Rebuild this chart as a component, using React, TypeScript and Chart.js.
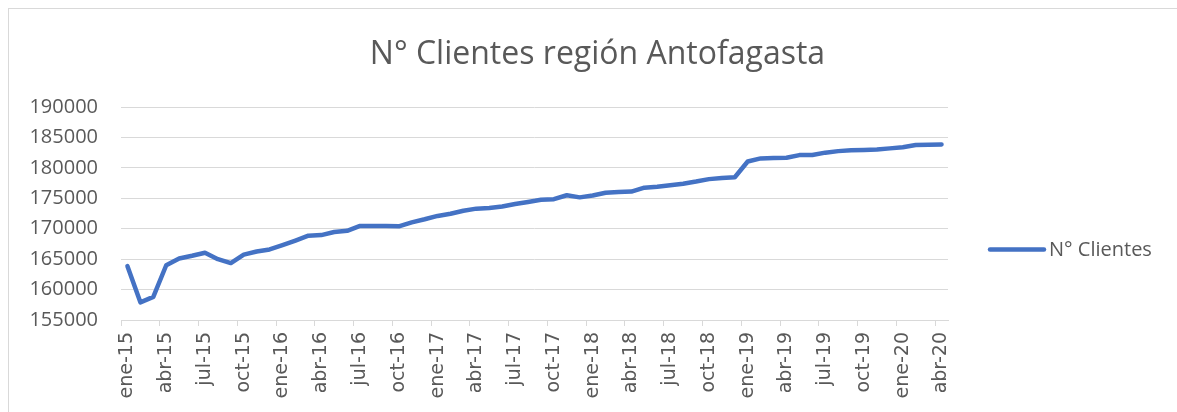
import React, { useEffect, useRef } from "react";
import { Chart, registerables } from "chart.js";

Chart.register(...registerables);

const TITLE = "N° Clientes región Antofagasta";
const SERIES_NAME = "N° Clientes";
const MONTHS = ["ene", "feb", "mar", "abr", "may", "jun", "jul", "ago", "sep", "oct", "nov", "dic"];
const YEARS = ["15", "16", "17", "18", "19", "20"];
const MONTH_COUNT = 64;
const CLIENTES = [
  163850, 157900, 158800, 164000, 165100, 165550, 166050, 165000, 164350, 165750, 166250, 166600,
  167300, 168050, 168850, 168950, 169450, 169650, 170450, 170450, 170450, 170400, 171050, 171550,
  172100, 172450, 172950, 173300, 173400, 173650, 174050, 174400, 174750, 174850, 175500, 175150,
  175450, 175900, 176050, 176100, 176750, 176900, 177150, 177400, 177750, 178150, 178350, 178450,
  181050, 181550, 181600, 181650, 182100, 182100, 182500, 182750, 182900, 182950, 183000, 183200,
  183400, 183750, 183800, 183850,
];
const Y_MIN = 155000;
const Y_MAX = 190000;
const Y_STEP = 5000;
const LABEL_EVERY = 3;

const LABELS: string[] = [];
for (let i = 0; i < MONTH_COUNT; i++) {
  LABELS.push(MONTHS[i % 12] + "-" + YEARS[Math.floor(i / 12)]);
}

const TEXT = "#595959";
const GRID = "#d9d9d9";
const LINE = "#4472C4";

const overlayPlugin = {
  id: "overlayTexts",
  afterDraw(chart: any) {
    const ctx = chart.ctx;
    ctx.save();
    ctx.fillStyle = TEXT;
    ctx.font = '32px "Open Sans"';
    ctx.textAlign = "center";
    ctx.textBaseline = "middle";
    ctx.fillText(TITLE, 597.5, 55);

    const ds = chart.data.datasets[0];
    ctx.strokeStyle = ds.borderColor;
    ctx.lineWidth = 4.5;
    ctx.lineCap = "round";
    ctx.beginPath();
    ctx.moveTo(990, 249.5);
    ctx.lineTo(1044, 249.5);
    ctx.stroke();
    ctx.font = '20px "Open Sans"';
    ctx.textAlign = "left";
    ctx.fillStyle = TEXT;
    ctx.fillText(ds.label, 1049, 250);
    ctx.restore();
  },
};

export default function App() {
  const ref = useRef<HTMLCanvasElement>(null);
  useEffect(() => {
    if (!ref.current) return;
    const chart = new Chart(ref.current, {
      type: "line",
      data: {
        labels: LABELS,
        datasets: [
          {
            label: SERIES_NAME,
            data: CLIENTES,
            borderColor: LINE,
            backgroundColor: LINE,
            borderWidth: 4.5,
            pointRadius: 0,
            tension: 0,
            borderJoinStyle: "round",
            borderCapStyle: "round",
          },
        ],
      },
      options: {
        responsive: false,
        animation: false,
        devicePixelRatio: 1,
        layout: { padding: { top: 107, right: 229, left: 0, bottom: 0 } },
        plugins: {
          legend: { display: false },
          title: { display: false },
          tooltip: { enabled: false },
        },
        scales: {
          x: {
            type: "category",
            offset: true,
            afterFit: (s: any) => {
              s.height = 92;
            },
            grid: {
              offset: true,
              drawOnChartArea: false,
              drawTicks: true,
              tickLength: 6,
              lineWidth: 1,
              color: (c: any) => (c.index % LABEL_EVERY === 0 && c.index < MONTH_COUNT ? GRID : "rgba(0,0,0,0)"),
            },
            border: { display: true, color: GRID, width: 1 },
            ticks: {
              autoSkip: false,
              minRotation: 90,
              maxRotation: 90,
              padding: 6,
              color: TEXT,
              font: { family: "DejaVu Sans", size: 19 },
              callback: (_v: any, i: number) => (i % LABEL_EVERY === 0 ? LABELS[i] : ""),
            },
          },
          y: {
            min: Y_MIN,
            max: Y_MAX,
            afterFit: (s: any) => {
              s.width = 121;
            },
            grid: { color: GRID, lineWidth: 1, drawTicks: false },
            border: { display: false },
            ticks: {
              stepSize: Y_STEP,
              padding: 23,
              color: TEXT,
              font: { family: "Open Sans", size: 20 },
              callback: (v: any) => String(v),
            },
          },
        },
      },
      plugins: [overlayPlugin],
    });
    return () => chart.destroy();
  }, []);

  return (
    <div style={{ position: "fixed", left: 0, top: 0, width: 1177, height: 412, background: "#fff", overflow: "hidden" }}>
      <div
        style={{
          position: "absolute",
          left: 8,
          top: 8,
          width: 1300,
          height: 500,
          borderLeft: "1px solid " + GRID,
          borderTop: "1px solid " + GRID,
        }}
      />
      <canvas ref={ref} width={1177} height={412} style={{ position: "absolute", left: 0, top: 0, width: 1177, height: 412 }} />
    </div>
  );
}
